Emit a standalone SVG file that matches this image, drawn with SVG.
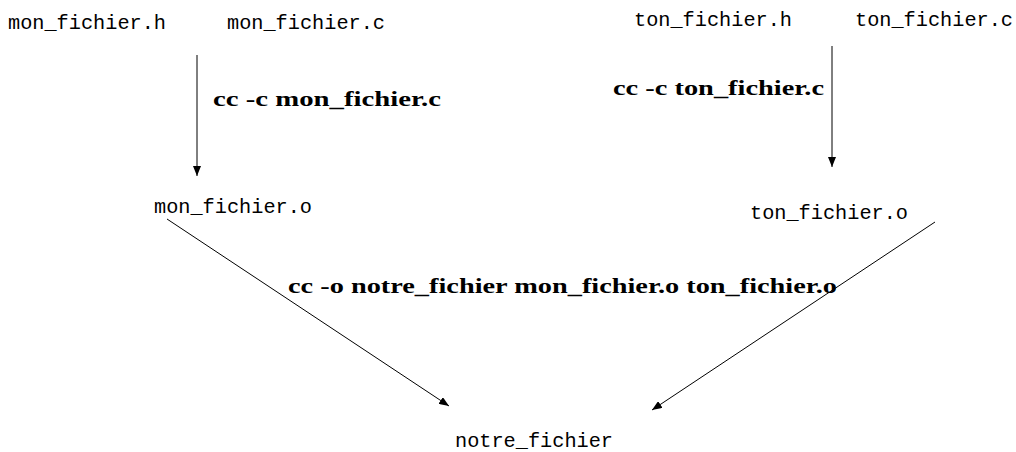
<svg xmlns="http://www.w3.org/2000/svg" width="1016" height="452" viewBox="0 0 1016 452">
  <style>
    .file { font-family: "Liberation Mono", "DejaVu Sans Mono", monospace; font-size: 20.25px; fill: #000; }
    .cmd { font-family: "Liberation Serif", "DejaVu Serif", serif; font-weight: bold; font-size: 21px; fill: #000; }
    .edge { stroke: #000; stroke-width: 1; fill: none; marker-end: url(#arrow); }
  </style>
  <defs>
    <marker id="arrow" viewBox="0 0 10 8" refX="10" refY="4" markerWidth="10" markerHeight="8" markerUnits="userSpaceOnUse" orient="auto">
      <path d="M0,0 L10,4 L0,8 Z" fill="#000"/>
    </marker>
  </defs>
  <rect width="1016" height="452" fill="#fff"/>

  <g id="mon_fichier_h"><text class="file" x="8" y="29" textLength="158">mon_fichier.h</text></g>
  <g id="mon_fichier_c"><text class="file" x="227" y="29" textLength="158">mon_fichier.c</text></g>
  <g id="ton_fichier_h"><text class="file" x="634" y="26" textLength="158">ton_fichier.h</text></g>
  <g id="ton_fichier_c"><text class="file" x="855" y="26" textLength="158">ton_fichier.c</text></g>
  <g id="mon_fichier_o"><text class="file" x="154" y="213" textLength="158">mon_fichier.o</text></g>
  <g id="ton_fichier_o"><text class="file" x="750" y="219" textLength="158">ton_fichier.o</text></g>
  <g id="notre_fichier"><text class="file" x="455" y="447" textLength="158">notre_fichier</text></g>

  <g id="connectors">
    <line class="edge" x1="197" y1="55" x2="197" y2="176"/>
    <line class="edge" x1="832" y1="46" x2="832" y2="167"/>
    <line class="edge" x1="167" y1="219" x2="449" y2="406"/>
    <line class="edge" x1="935" y1="222" x2="652" y2="410"/>
  </g>

  <g id="labels">
    <text class="cmd" x="213" y="106" textLength="228" lengthAdjust="spacingAndGlyphs">cc -c mon_fichier.c</text>
    <text class="cmd" x="613" y="95" textLength="211" lengthAdjust="spacingAndGlyphs">cc -c ton_fichier.c</text>
    <text class="cmd" x="288" y="293" textLength="549" lengthAdjust="spacingAndGlyphs">cc -o notre_fichier mon_fichier.o ton_fichier.o</text>
  </g>
</svg>
